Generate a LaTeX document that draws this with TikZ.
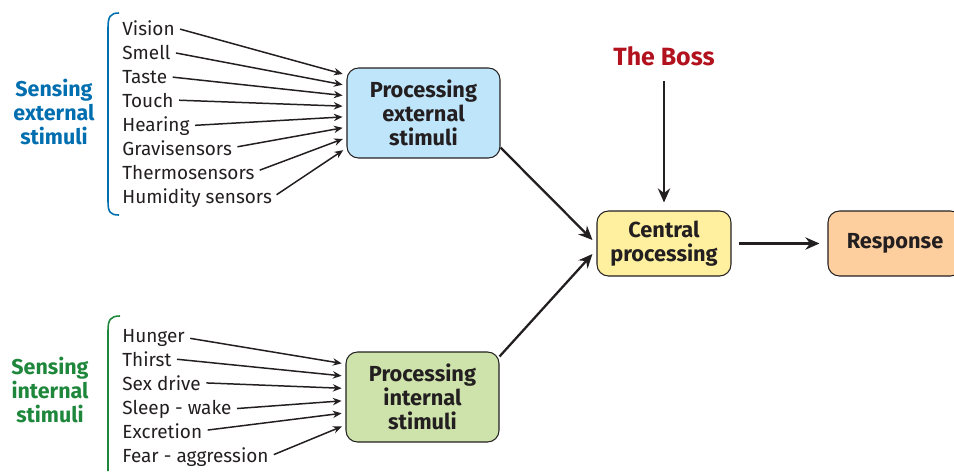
\documentclass[tikz,border=0pt]{standalone}
\usepackage{fontspec}
\setmainfont{Fira Sans}
\usetikzlibrary{arrows.meta,calc}
\definecolor{extblue}{RGB}{190,229,249}
\definecolor{intgreen}{RGB}{206,227,171}
\definecolor{cenyellow}{RGB}{255,240,160}
\definecolor{resorange}{RGB}{253,207,158}
\definecolor{bluetext}{RGB}{0,110,175}
\definecolor{greentext}{RGB}{30,135,60}
\definecolor{bossred}{RGB}{178,18,30}
\definecolor{ink}{RGB}{35,31,32}
\begin{document}
\begin{tikzpicture}[x=0.02cm,y=-0.02cm,
	item/.style={anchor=base west,inner sep=0pt,text=ink,font=\fontsize{10.8}{13.7}\selectfont},
	procbox/.style={draw=ink,line width=0.6pt,rounded corners=6.5pt,align=center,
		font=\fontsize{12.4}{13.7}\selectfont\bfseries,text=ink},
	sidelabel/.style={align=center,font=\fontsize{12.2}{13.7}\selectfont\bfseries},
	small/.style={-{Stealth[length=5pt,width=4.2pt]},line width=0.85pt,ink,shorten <=3pt,shorten >=2.2pt},
	big/.style={-{Stealth[length=8pt,width=7pt]},line width=1.3pt,ink}]
	\useasboundingbox (0,0) rectangle (954,471);
	% boxes
	\node[procbox,fill=extblue,minimum width=3.06cm,minimum height=1.8cm] (pext) at (423.5,113) {Processing\\external\\stimuli};
	\node[procbox,fill=intgreen,minimum width=3.06cm,minimum height=1.8cm] (pint) at (422.5,397) {Processing\\internal\\stimuli};
	\node[procbox,fill=cenyellow,minimum width=2.68cm,minimum height=1.3cm] (cen) at (664,243.5) {Central\\processing};
	\node[procbox,fill=resorange,minimum width=2.68cm,minimum height=1.3cm] (res) at (895,243.5) {Response};
	\node[font=\fontsize{14.2}{17}\selectfont\bfseries,text=bossred] (boss) at (664,56) {The Boss};
	% side labels
	\node[sidelabel,text=bluetext] (sext) at (54,112) {Sensing\\external\\stimuli};
	\node[sidelabel,text=greentext] (sint) at (50,390) {Sensing\\internal\\stimuli};
	\draw[bluetext,line width=0.9pt] (119,13) .. controls (110,13) and (108,17) .. (108,28) -- (108,201) .. controls (108,212) and (110,215) .. (119,215);
	\draw[greentext,line width=0.9pt] (120,316) .. controls (110,316) and (108,320) .. (108,331) -- (108,471);
	% external stimuli
	\foreach \txt [count=\i] in {Vision,Smell,Taste,Touch,Hearing,Gravisensors,Thermosensors,Humidity sensors}{
		\node[item] (ext\i) at (122,{35+24*(\i-1)}) {\txt};
		\draw[small] (ext\i.east) -- ($(pext.west)+(0,{-38+10.43*(\i-1)})$);
	}
	% internal stimuli
	\foreach \txt [count=\i] in {Hunger,Thirst,Sex drive,Sleep - wake,Excretion,Fear - aggression}{
		\node[item] (int\i) at (122,{342+24*(\i-1)}) {\txt};
		\draw[small] (int\i.east) -- ($(pint.west)+(0,{-33+12.2*(\i-1)})$);
	}
	% main arrows
	\draw[big] ($(pext.south east)+(0,-11)$) -- ($(cen.west)+(-4,-3.5)$);
	\draw[big] ($(pint.north east)+(0,5)$) -- ($(cen.west)+(-4,10.5)$);
	\draw[big,shorten <=9*0.02cm,shorten >=8*0.02cm] (boss.south) -- (cen.north);
	\draw[big,shorten <=7*0.02cm,shorten >=8*0.02cm] (cen.east) -- (res.west);
\end{tikzpicture}
\end{document}
